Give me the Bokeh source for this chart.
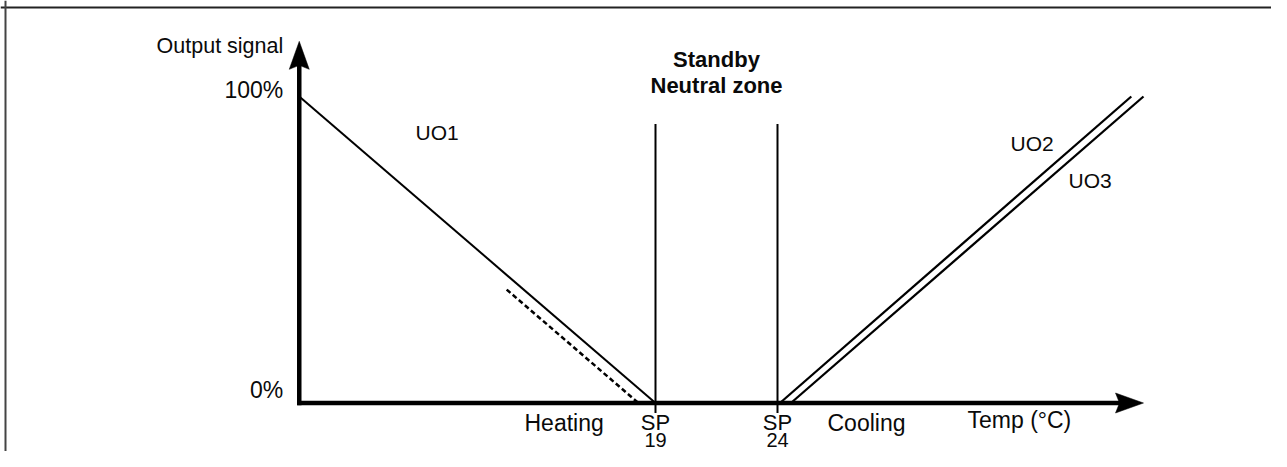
from bokeh.plotting import figure
from bokeh.models import Range1d, Span
from bokeh.embed import file_html
from bokeh.resources import INLINE
from bokeh.core.properties import value

# ---------------- data (°C on x, output % on y) ----------------
setpoints = [19, 24]
setpoint_names = ["SP", "SP"]
setpoint_values = ["19", "24"]
sp_marker_bottom = -3.3
sp_marker_top = 91

axis_origin_temp = 4.4
x_axis_end = 39.0
y_axis_top = 118

uo1_x = [4.4, 19.0]
uo1_y = [100, 0]
uo1_dash_x = [12.9, 18.3]
uo1_dash_y = [37, 0]
uo2_x = [24.1, 38.5]
uo2_y = [0, 100]
uo3_x = [24.55, 39.0]
uo3_y = [0, 100]

y_tick_values = [0, 100]
y_tick_labels = ["0%", "100%"]

# ---------------- layout constants (pixels) ----------------
PX_C = 24.4      # pixels per °C
PX_P = 3.065     # pixels per %
SP_X = 655.0     # pixel column of the first setpoint
ZERO_Y = 402.5   # pixel row of 0 %
W, H = 1271, 451


def px(xp):
    return 19 + (xp - SP_X) / PX_C


def py(yp):
    return (ZERO_Y - yp) / PX_P


def dx(n):
    return n / PX_C


def dy(n):
    return n / PX_P


p = figure(width=W, height=H,
           x_range=Range1d(px(0), px(W)),
           y_range=Range1d(py(H), py(0)),
           output_backend="svg", toolbar_location=None,
           x_axis_location=None, y_axis_location=None,
           min_border=0)
p.xgrid.visible = False
p.ygrid.visible = False
p.outline_line_color = None
p.background_fill_color = "white"
p.border_fill_color = "white"

# frame (top and left edges only)
p.add_layout(Span(location=py(7), dimension="width", line_color="#222", line_width=2))
p.add_layout(Span(location=px(5), dimension="height", line_color="#444", line_width=2))

# axes shafts
AX_W = 4.5
p.segment(x0=[axis_origin_temp - dx(2)], y0=[0], x1=[x_axis_end - dx(20)], y1=[0],
          line_color="black", line_width=AX_W)
p.segment(x0=[axis_origin_temp], y0=[-dy(2.3)], x1=[axis_origin_temp], y1=[y_axis_top - dy(20)],
          line_color="black", line_width=AX_W)

# arrow heads
L, HW, N = 28, 10, 4
p.patch(x=[x_axis_end, x_axis_end - dx(L), x_axis_end - dx(L - N), x_axis_end - dx(L)],
        y=[0, dy(HW), 0, -dy(HW)], color="black", line_width=0.5)
p.patch(x=[axis_origin_temp, axis_origin_temp - dx(HW), axis_origin_temp, axis_origin_temp + dx(HW)],
        y=[y_axis_top, y_axis_top - dy(L), y_axis_top - dy(L - N), y_axis_top - dy(L)],
        color="black", line_width=0.5)

# setpoint markers
p.segment(x0=setpoints, y0=[sp_marker_bottom] * 2, x1=setpoints, y1=[sp_marker_top] * 2,
          line_color="black", line_width=2)

# output lines
p.line(uo1_x, uo1_y, line_color="black", line_width=2)
p.line(uo1_dash_x, uo1_dash_y, line_color="black", line_width=2.5, line_dash="5 3")
p.line(uo2_x, uo2_y, line_color="black", line_width=2.3)
p.line(uo3_x, uo3_y, line_color="black", line_width=2.3)

FONT = value("Liberation Sans")
TC = "#0a0a0a"
common = dict(text_font=FONT, text_baseline="middle", text_color=TC)

# y axis title and tick labels (right aligned)
p.text(x=[axis_origin_temp - dx(16)], y=[py(45.5)], text=["Output signal"],
       text_font_size="21.5px", text_align="right", **common)
p.text(x=[axis_origin_temp - dx(16)] * 2,
       y=[y_tick_values[1] + dy(7), y_tick_values[0] + dy(13.5)],
       text=[y_tick_labels[1], y_tick_labels[0]],
       text_font_size="23px", text_align="right", **common)

# line labels
p.text(x=[px(415), px(1010), px(1068)], y=[py(131.5), py(142.5), py(179.5)],
       text=["UO1", "UO2", "UO3"],
       text_font_size="21px", text_align="left", **common)

# x axis title and zone labels
p.text(x=[px(967)], y=[py(419)], text=["Temp (°C)"],
       text_font_size="23px", text_align="left", **common)
p.text(x=[px(524), px(827)], y=[py(422)] * 2, text=["Heating", "Cooling"],
       text_font_size="23px", text_align="left", **common)

# setpoint labels
p.text(x=setpoints, y=[py(422)] * 2, text=setpoint_names,
       text_font_size="22px", text_align="center", **common)
p.text(x=setpoints, y=[py(439)] * 2, text=setpoint_values,
       text_font_size="20px", text_align="center", **common)

# neutral zone heading
mid = (setpoints[0] + setpoints[1]) / 2
p.text(x=[mid, mid], y=[py(59), py(85)], text=["Standby", "Neutral zone"],
       text_font_size="22px", text_font_style="bold", text_align="center", **common)

open("out.html", "w").write(file_html(p, INLINE))
